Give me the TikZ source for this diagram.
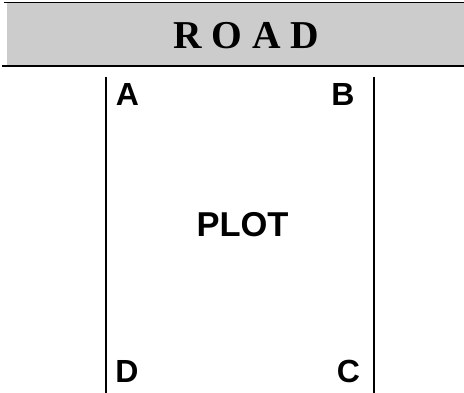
\documentclass[tikz,border=0pt]{standalone}
\usepackage{fontspec}
\setmainfont{Liberation Serif}
\newfontfamily\arialfont{Liberation Sans}
\definecolor{roadgray}{HTML}{CCCCCC}
\begin{document}
\begin{tikzpicture}[x=1pt,y=-1pt,
  corner/.style={anchor=base,inner sep=0pt,font=\arialfont\bfseries\fontsize{32}{32}\selectfont},
  edge/.style={line width=2pt,black}]
\useasboundingbox (0,0) rectangle (464,393);
\fill[roadgray] (7,3) rectangle (464,65.5);
\draw[line width=1.2pt] (4,2.7) -- (464,2.7);
\draw[line width=1.8pt] (2,66.3) -- (464,66.3);
\coordinate (lt) at (106,77);
\coordinate (lb) at (106,393);
\coordinate (rt) at (374,77);
\coordinate (rb) at (374,393);
\draw[edge] (lt) -- (lb);
\draw[edge] (rt) -- (rb);
\node[anchor=base,inner sep=0pt,font=\bfseries\fontsize{39.5}{39.5}\selectfont] (road) at (246.5,49) {R O A D};
\node[corner,font=\arialfont\bfseries\fontsize{34.5}{34.5}\selectfont] (plot) at (242.5,237) {PLOT};
\node[corner] (a) at (127.5,106) {A};
\node[corner] (b) at (343,106) {B};
\node[corner] (d) at (127,383) {D};
\node[corner] (c) at (348.5,382.5) {C};
\end{tikzpicture}
\end{document}
